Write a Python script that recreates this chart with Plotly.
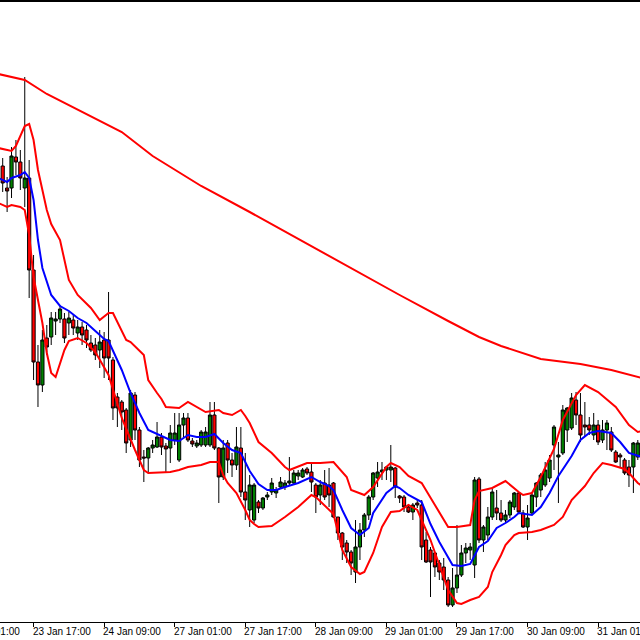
import plotly.graph_objects as go

# ---- data (bar index k, hourly bars) ----
bar_index = list(range(145))

opens = [1.3834,1.3812,1.3812,1.3843,1.3838,1.3812,1.3822,1.3730,1.3638,1.3615,
         1.3662,1.3663,1.3679,1.3681,1.3681,1.3677,1.3680,1.3667,1.3673,1.3670,
         1.3657,1.3655,1.3650,1.3660,1.3660,1.3640,1.3603,1.3598,1.3590,1.3560,
         1.3605,1.3570,1.3543,1.3542,1.3552,1.3553,1.3563,1.3554,1.3552,1.3560,
         1.3540,1.3575,1.3582,1.3559,1.3554,1.3555,1.3555,1.3555,1.3585,1.3552,
         1.3523,1.3557,1.3540,1.3535,1.3552,1.3508,1.3490,1.3480,1.3498,1.3492,
         1.3503,1.3508,1.3507,1.3513,1.3513,1.3517,1.3517,1.3524,1.3523,1.3531,
         1.3528,1.3515,1.3505,1.3517,1.3515,1.3517,1.3483,1.3467,1.3457,1.3448,
         1.3428,1.3453,1.3470,1.3485,1.3503,1.3522,1.3528,1.3530,1.3530,1.3532,
         1.3504,1.3503,1.3493,1.3488,1.3497,1.3495,1.3460,1.3450,1.3447,1.3437,
         1.3433,1.3420,1.3395,1.3412,1.3425,1.3447,1.3450,1.3435,1.3521,1.3460,
         1.3465,1.3483,1.3492,1.3487,1.3480,1.3485,1.3493,1.3507,1.3487,1.3473,
         1.3487,1.3503,1.3510,1.3515,1.3522,1.3555,1.3543,1.3547,1.3570,1.3572,
         1.3600,1.3585,1.3575,1.3575,1.3565,1.3575,1.3560,1.3570,1.3568,1.3548,
         1.3545,1.3540,1.3533,1.3533,1.3543]
highs = [1.3842,1.3823,1.3853,1.3860,1.3850,1.3923,1.3840,1.3745,1.3655,1.3670,
         1.3675,1.3688,1.3688,1.3695,1.3687,1.3688,1.3685,1.3680,1.3678,1.3675,
         1.3665,1.3662,1.3670,1.3668,1.3708,1.3643,1.3607,1.3600,1.3592,1.3610,
         1.3608,1.3573,1.3550,1.3553,1.3560,1.3578,1.3567,1.3557,1.3575,1.3587,
         1.3587,1.3587,1.3587,1.3562,1.3560,1.3570,1.3573,1.3598,1.3598,1.3553,
         1.3560,1.3560,1.3547,1.3573,1.3573,1.3547,1.3525,1.3517,1.3500,1.3503,
         1.3508,1.3522,1.3513,1.3523,1.3520,1.3543,1.3530,1.3530,1.3532,1.3533,
         1.3537,1.3517,1.3520,1.3530,1.3532,1.3518,1.3483,1.3468,1.3460,1.3450,
         1.3480,1.3477,1.3487,1.3505,1.3528,1.3538,1.3538,1.3533,1.3555,1.3533,
         1.3505,1.3505,1.3495,1.3497,1.3500,1.3500,1.3468,1.3453,1.3448,1.3440,
         1.3442,1.3423,1.3432,1.3475,1.3455,1.3457,1.3457,1.3523,1.3523,1.3475,
         1.3493,1.3513,1.3510,1.3500,1.3490,1.3500,1.3508,1.3508,1.3490,1.3495,
         1.3508,1.3518,1.3527,1.3538,1.3545,1.3575,1.3558,1.3595,1.3593,1.3607,
         1.3608,1.3607,1.3598,1.3583,1.3587,1.3580,1.3580,1.3580,1.3573,1.3550,
         1.3547,1.3542,1.3540,1.3558,1.3560]
lows = [1.3808,1.3788,1.3802,1.3825,1.3810,1.3793,1.3702,1.3620,1.3593,1.3608,
        1.3645,1.3655,1.3665,1.3677,1.3657,1.3665,1.3665,1.3660,1.3655,1.3652,
        1.3648,1.3640,1.3632,1.3622,1.3620,1.3580,1.3573,1.3570,1.3547,1.3553,
        1.3560,1.3533,1.3518,1.3527,1.3547,1.3552,1.3545,1.3527,1.3537,1.3555,
        1.3538,1.3563,1.3558,1.3553,1.3552,1.3553,1.3553,1.3553,1.3550,1.3497,
        1.3520,1.3527,1.3523,1.3530,1.3503,1.3480,1.3473,1.3477,1.3487,1.3490,
        1.3500,1.3505,1.3502,1.3512,1.3510,1.3515,1.3515,1.3520,1.3522,1.3525,
        1.3508,1.3487,1.3495,1.3500,1.3493,1.3482,1.3460,1.3440,1.3437,1.3425,
        1.3417,1.3440,1.3463,1.3480,1.3500,1.3513,1.3520,1.3520,1.3518,1.3502,
        1.3497,1.3488,1.3487,1.3480,1.3492,1.3440,1.3437,1.3403,1.3423,1.3420,
        1.3410,1.3393,1.3393,1.3407,1.3423,1.3437,1.3440,1.3422,1.3457,1.3448,
        1.3460,1.3480,1.3480,1.3478,1.3477,1.3482,1.3490,1.3486,1.3472,1.3460,
        1.3485,1.3493,1.3503,1.3513,1.3518,1.3530,1.3497,1.3545,1.3558,1.3570,
        1.3575,1.3558,1.3563,1.3565,1.3560,1.3555,1.3557,1.3550,1.3548,1.3537,
        1.3533,1.3525,1.3513,1.3507,1.3540]
closes = [1.3817,1.3809,1.3844,1.3838,1.3822,1.3822,1.3730,1.3638,1.3615,1.3660,
          1.3653,1.3682,1.3681,1.3691,1.3662,1.3682,1.3672,1.3673,1.3665,1.3660,
          1.3650,1.3645,1.3658,1.3642,1.3642,1.3592,1.3592,1.3588,1.3557,1.3607,
          1.3570,1.3540,1.3542,1.3552,1.3555,1.3563,1.3553,1.3551,1.3567,1.3567,
          1.3575,1.3582,1.3560,1.3556,1.3557,1.3568,1.3568,1.3585,1.3552,1.3523,
          1.3552,1.3540,1.3535,1.3553,1.3508,1.3500,1.3515,1.3515,1.3492,1.3502,
          1.3505,1.3517,1.3510,1.3518,1.3517,1.3519,1.3527,1.3527,1.3530,1.3527,
          1.3518,1.3503,1.3515,1.3503,1.3505,1.3483,1.3467,1.3453,1.3448,1.3437,
          1.3453,1.3470,1.3485,1.3503,1.3527,1.3528,1.3530,1.3533,1.3533,1.3513,
          1.3502,1.3493,1.3488,1.3495,1.3495,1.3453,1.3438,1.3438,1.3433,1.3428,
          1.3420,1.3395,1.3412,1.3425,1.3447,1.3452,1.3453,1.3520,1.3460,1.3473,
          1.3483,1.3508,1.3487,1.3480,1.3485,1.3498,1.3507,1.3488,1.3473,1.3482,
          1.3505,1.3517,1.3525,1.3530,1.3540,1.3573,1.3545,1.3590,1.3592,1.3602,
          1.3585,1.3565,1.3573,1.3570,1.3575,1.3558,1.3570,1.3577,1.3550,1.3538,
          1.3543,1.3527,1.3525,1.3557,1.3557]

# long moving average (sampled at bar indices)
ma_long_k = [-1, 5, 10, 18, 27, 34, 45, 56, 67, 79, 90, 101, 108, 113, 117, 122, 131, 138, 145]
ma_long_v = [1.3926, 1.3920, 1.3906, 1.3888, 1.3868, 1.3844, 1.3814, 1.3788, 1.3761, 1.3732,
             1.3705, 1.3679, 1.3663, 1.3654, 1.3648, 1.3641, 1.3636, 1.3630, 1.3622]

# Bollinger bands (sampled at bar indices)
bb_up_k = [-1,2,3,5,6,7,8,10,11,13,15,17,20,22,24,25,28,29,32,33,35,36,37,40,42,44,46,49,50,52,
           54,55,56,58,61,64,65,69,72,75,78,79,82,84,87,88,90,92,95,98,101,103,106,107,108,111,
           114,117,118,120,122,125,127,130,132,135,137,139,142,144,145]
bb_up_v = [1.3852,1.3849,1.3854,1.3874,1.3876,1.3860,1.3830,1.3790,1.3776,1.3760,1.3720,1.3705,
           1.3692,1.3680,1.3687,1.3687,1.3660,1.3658,1.3645,1.3620,1.3607,1.3601,1.3593,1.3592,
           1.3598,1.3593,1.3588,1.3590,1.3587,1.3585,1.3590,1.3584,1.3577,1.3558,1.3547,1.3533,
           1.3530,1.3537,1.3537,1.3538,1.3523,1.3510,1.3505,1.3513,1.3533,1.3537,1.3533,1.3524,
           1.3517,1.3495,1.3473,1.3473,1.3475,1.3500,1.3509,1.3512,1.3519,1.3508,1.3505,1.3507,
           1.3523,1.3551,1.3580,1.3605,1.3615,1.3608,1.3600,1.3593,1.3575,1.3568,1.3569]

bb_mid_k = [-1,1,2,4,5,6,7,8,9,11,13,15,17,19,21,23,24,27,29,31,33,36,38,40,42,44,46,48,50,52,
            54,56,58,60,62,64,67,70,72,74,75,77,79,81,83,84,86,87,89,90,92,95,97,99,102,104,106,
            108,110,112,114,116,117,120,122,124,126,129,131,133,135,138,140,142,145]
bb_mid_v = [1.3822,1.3818,1.3822,1.3825,1.3828,1.3822,1.3800,1.3760,1.3732,1.3705,1.3694,1.3689,
            1.3682,1.3677,1.3669,1.3661,1.3659,1.3630,1.3607,1.3587,1.3570,1.3564,1.3560,1.3559,
            1.3565,1.3563,1.3563,1.3566,1.3557,1.3550,1.3547,1.3529,1.3516,1.3510,1.3510,1.3513,
            1.3517,1.3523,1.3518,1.3514,1.3510,1.3490,1.3472,1.3465,1.3472,1.3487,1.3501,1.3507,
            1.3514,1.3512,1.3505,1.3498,1.3476,1.3458,1.3435,1.3434,1.3436,1.3453,1.3459,1.3472,
            1.3477,1.3483,1.3487,1.3485,1.3493,1.3507,1.3524,1.3544,1.3560,1.3567,1.3569,1.3567,
            1.3558,1.3547,1.3543]

bb_low_k = [-1,1,2,4,5,6,7,8,9,10,11,12,14,15,17,19,21,24,25,27,30,32,33,36,38,40,42,45,47,49,
            50,51,53,55,56,57,58,61,64,67,70,71,73,75,76,77,79,81,82,84,86,88,90,92,94,95,97,99,
            100,101,103,104,106,108,110,111,113,114,116,117,120,122,125,127,129,132,134,136,138,
            141,142,144,145]
bb_low_v = [1.3797,1.3793,1.3795,1.3793,1.3790,1.3765,1.3723,1.3700,1.3677,1.3647,1.3627,1.3623,
            1.3650,1.3659,1.3662,1.3657,1.3648,1.3625,1.3610,1.3582,1.3550,1.3530,1.3527,1.3528,
            1.3528,1.3530,1.3533,1.3535,1.3538,1.3538,1.3525,1.3517,1.3507,1.3490,1.3480,1.3476,
            1.3473,1.3474,1.3483,1.3493,1.3505,1.3503,1.3494,1.3486,1.3468,1.3450,1.3433,1.3426,
            1.3428,1.3447,1.3473,1.3488,1.3489,1.3495,1.3490,1.3480,1.3460,1.3435,1.3423,1.3410,
            1.3397,1.3396,1.3400,1.3403,1.3413,1.3428,1.3445,1.3455,1.3465,1.3467,1.3468,1.3470,
            1.3475,1.3483,1.3500,1.3514,1.3527,1.3537,1.3535,1.3531,1.3527,1.3517,1.3514]

tick_bars = [-9, 7, 23, 39, 55, 71, 87, 103, 119, 135]
tick_labels = ["23 Jan 01:00", "23 Jan 17:00", "24 Jan 09:00", "27 Jan 01:00", "27 Jan 17:00",
               "28 Jan 09:00", "29 Jan 01:00", "29 Jan 17:00", "30 Jan 09:00", "31 Jan 01:00"]

x_range = [-0.612, 144.5]

fig = go.Figure()
fig.add_trace(go.Candlestick(
    x=bar_index, open=opens, high=highs, low=lows, close=closes,
    increasing=dict(fillcolor="#008000", line=dict(color="black", width=1)),
    decreasing=dict(fillcolor="#ff0000", line=dict(color="black", width=1)),
    whiskerwidth=0, showlegend=False, hoverinfo="skip"))
red = "#ff0000"
fig.add_trace(go.Scatter(x=ma_long_k, y=ma_long_v, mode="lines",
                         line=dict(color=red, width=2), showlegend=False, hoverinfo="skip"))
fig.add_trace(go.Scatter(x=bb_up_k, y=bb_up_v, mode="lines",
                         line=dict(color=red, width=2), showlegend=False, hoverinfo="skip"))
fig.add_trace(go.Scatter(x=bb_low_k, y=bb_low_v, mode="lines",
                         line=dict(color=red, width=2), showlegend=False, hoverinfo="skip"))
fig.add_trace(go.Scatter(x=bb_mid_k, y=bb_mid_v, mode="lines",
                         line=dict(color="#0000ff", width=2), showlegend=False, hoverinfo="skip"))

# time labels, left-aligned at their tick marks (MetaTrader style)
span = x_range[1] - x_range[0]
for k, lab in zip(tick_bars, tick_labels):
    fig.add_annotation(x=(k - x_range[0]) / span, y=0, xref="paper", yref="paper", text=lab,
                       showarrow=False, xanchor="left", yanchor="top", xshift=-3, yshift=-2,
                       font=dict(family="Liberation Sans", size=10, color="black"))

# top window border
fig.add_shape(type="rect", xref="paper", yref="paper", x0=0, x1=1,
              y0=1.0, y1=1 + 2 / 620, line=dict(width=0), fillcolor="black", layer="above")

fig.update_layout(
    width=640, height=640,
    margin=dict(l=0, r=0, t=2, b=18, pad=0, autoexpand=False),
    paper_bgcolor="white", plot_bgcolor="white",
    hovermode=False,
    boxgap=0.15, boxgroupgap=0.15,
    xaxis=dict(range=x_range, rangeslider=dict(visible=False), automargin=False,
               showgrid=False, zeroline=False, showline=True, linecolor="black", linewidth=1,
               tickmode="array", tickvals=tick_bars, ticks="outside", ticklen=4,
               tickcolor="black", showticklabels=False),
    yaxis=dict(range=[1.3378, 1.3998], visible=False, showgrid=False, zeroline=False,
               automargin=False),
)

fig.write_html("out.html", config={"displayModeBar": False, "staticPlot": True},
               post_script="document.body.style.margin='0';document.body.style.padding='0';")
